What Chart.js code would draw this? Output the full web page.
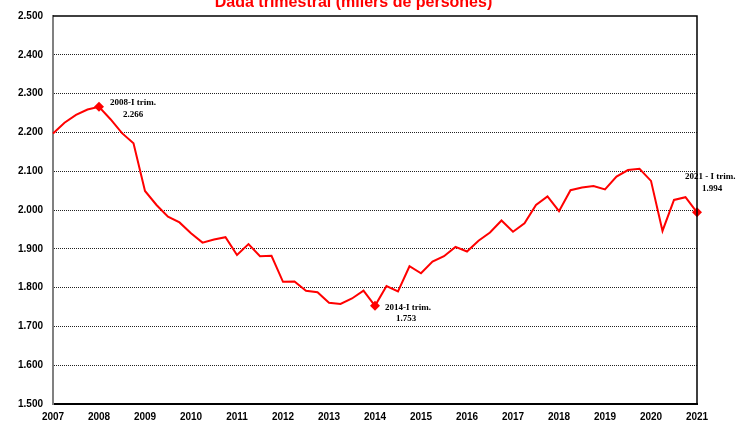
<!DOCTYPE html>
<html><head><meta charset="utf-8">
<script src="https://cdn.jsdelivr.net/npm/chart.js@4"></script>
<style>html,body{margin:0;padding:0;background:#fff;}#wrap{position:relative;width:739px;height:431px;overflow:hidden;}</style>
</head><body><div id="wrap"><canvas id="c" width="739" height="431"></canvas></div>
<script>
const quarters = [
 '2007-I','2007-II','2007-III','2007-IV','2008-I','2008-II','2008-III','2008-IV',
 '2009-I','2009-II','2009-III','2009-IV','2010-I','2010-II','2010-III','2010-IV',
 '2011-I','2011-II','2011-III','2011-IV','2012-I','2012-II','2012-III','2012-IV',
 '2013-I','2013-II','2013-III','2013-IV','2014-I','2014-II','2014-III','2014-IV',
 '2015-I','2015-II','2015-III','2015-IV','2016-I','2016-II','2016-III','2016-IV',
 '2017-I','2017-II','2017-III','2017-IV','2018-I','2018-II','2018-III','2018-IV',
 '2019-I','2019-II','2019-III','2019-IV','2020-I','2020-II','2020-III','2020-IV',
 '2021-I'];
const unemployed = [
 2197,2225,2245,2259,2266,2234,2198,2172,
 2049,2013,1983,1968,1940,1916,1924,1930,
 1884,1912,1881,1882,1815,1816,1792,1788,
 1761,1758,1772,1792,1753,1804,1790,1855,
 1837,1867,1881,1905,1893,1921,1942,1973,
 1944,1966,2013,2035,1997,2051,2058,2062,
 2053,2086,2103,2106,2075,1946,2026,2033,
 1994];
const yearLabels = ['2007','2008','2009','2010','2011','2012','2013','2014','2015','2016','2017','2018','2019','2020','2021'];
const markedIdx = [4, 28, 56];
const markedText = ['2008-I trim.', '2014-I trim.', '2021 - I trim.'];
const titleText = 'Dada trimestral (milers de persones)';

const fmt = v => String(v).replace(/\B(?=(\d{3})+(?!\d))/g, '.');

const annot = {
  id: 'annot',
  afterDraw(chart) {
    const ctx = chart.ctx, a = chart.chartArea;
    const xs = chart.scales.x, ys = chart.scales.y;
    ctx.save();
    // frame top & right
    ctx.strokeStyle = '#000'; ctx.lineWidth = 1.5;
    ctx.beginPath();
    ctx.moveTo(a.left, a.top); ctx.lineTo(a.right, a.top); ctx.lineTo(a.right, a.bottom);
    ctx.stroke();
    // title
    ctx.fillStyle = '#ff0000';
    ctx.font = 'bold 16px "Liberation Sans", Arial, sans-serif';
    ctx.textAlign = 'center'; ctx.textBaseline = 'alphabetic';
    ctx.fillText(titleText, 353.5, 7);
    // annotations
    const offs = [[11,-4,34,8],[10,2,31,13],[-12,-36,15,-24]];
    ctx.fillStyle = '#000';
    ctx.font = 'bold 9px "Liberation Serif", "Times New Roman", serif';
    ctx.textBaseline = 'middle';
    markedIdx.forEach((idx, k) => {
      const mx = xs.getPixelForValue(idx), my = ys.getPixelForValue(unemployed[idx]);
      const o = offs[k];
      ctx.textAlign = 'left';
      ctx.fillText(markedText[k], mx + o[0], my + o[1]);
      ctx.textAlign = 'center';
      ctx.fillText(fmt(unemployed[idx]), mx + o[2], my + o[3]);
    });
    ctx.restore();
  }
};

new Chart(document.getElementById('c'), {
  type: 'line',
  data: {
    labels: quarters,
    datasets: [{
      data: unemployed,
      borderColor: '#ff0000',
      backgroundColor: '#ff0000',
      borderWidth: 2,
      tension: 0,
      clip: false,
      pointStyle: 'rectRot',
      pointRadius: c => markedIdx.includes(c.dataIndex) ? 5 : 0,
      pointHoverRadius: 0,
      pointBorderWidth: 0
    }]
  },
  options: {
    responsive: false,
    animation: false,
    devicePixelRatio: 1,
    layout: { padding: { top: 16, right: 42, left: 0, bottom: 0 } },
    plugins: { legend: { display: false }, tooltip: { enabled: false }, title: { display: false } },
    scales: {
      x: {
        type: 'category',
        offset: false,
        afterFit: s => { s.height = 27; },
        grid: { display: false, drawTicks: false },
        border: { display: true, color: '#000', width: 2 },
        ticks: {
          autoSkip: false, maxRotation: 0, padding: 7,
          color: '#000',
          font: { family: '"Liberation Sans", Arial, sans-serif', size: 10, weight: 'bold' },
          callback: (v, i) => i % 4 === 0 ? yearLabels[i / 4] : ''
        }
      },
      y: {
        min: 1500, max: 2500,
        afterFit: s => { s.width = 53; },
        grid: {
          drawTicks: false,
          lineWidth: 1,
          color: c => (c.tick && (c.tick.value === 1500 || c.tick.value === 2500)) ? 'rgba(0,0,0,0)' : '#222'
        },
        border: { display: true, color: '#808080', width: 2, dash: [1, 1] },
        ticks: {
          stepSize: 100, padding: 10, color: '#000',
          font: { family: '"Liberation Sans", Arial, sans-serif', size: 10, weight: 'bold' },
          callback: v => fmt(v)
        }
      }
    }
  },
  plugins: [annot]
});
</script></body></html>
